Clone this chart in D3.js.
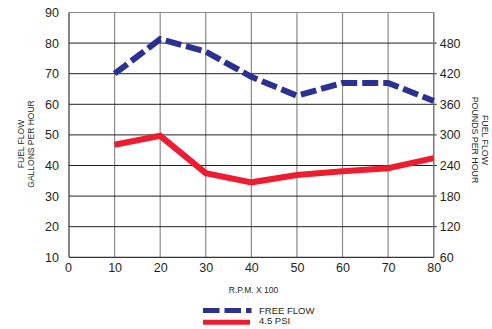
<!DOCTYPE html>
<html><head><meta charset="utf-8">
<script src="https://cdn.jsdelivr.net/npm/d3@7"></script>
<style>body{margin:0;background:#fff}svg{display:block;font-family:"Liberation Sans",Arial,sans-serif}</style>
</head><body><svg id="c" width="492" height="329"></svg>
<script>
const rpm = [10, 20, 30, 40, 50, 60, 70, 80];
const freeFlow = [70, 81.3, 77.2, 69, 62.8, 67, 67, 61.1];
const psi45 = [46.8, 49.7, 37.5, 34.5, 36.9, 38.1, 39.1, 42.4];
const xTicks = [0, 10, 20, 30, 40, 50, 60, 70, 80];
const yLeftTicks = [10, 20, 30, 40, 50, 60, 70, 80, 90];
const yRightTicks = [60, 120, 180, 240, 300, 360, 420, 480];
const seriesNames = ["FREE FLOW", "4.5 PSI"];
const xTitle = "R.P.M. X 100";
const leftTitle = ["FUEL FLOW", "GALLONS PER HOUR"];
const rightTitle = ["FUEL FLOW", "POUNDS PER HOUR"];

const svg = d3.select("#c");
const L = 69, R = 433.7, T = 12.5, B = 257.3;
const x = d3.scaleLinear().domain([0, 80]).range([L, R]);
const yL = d3.scaleLinear().domain([10, 90]).range([B, T]);
const yR = d3.scaleLinear().domain([60, 540]).range([B, T]);
const blue = "#2b3192", red = "#ed1c2e";

// vertical grid
svg.append("g").selectAll("line").data(xTicks.slice(1)).join("line")
  .attr("x1", d => x(d)).attr("x2", d => x(d)).attr("y1", T).attr("y2", B)
  .attr("stroke", "#8a8a8a").attr("stroke-width", 1.2);
// horizontal grid
svg.append("g").selectAll("line").data(yLeftTicks.slice(1, -1)).join("line")
  .attr("x1", L).attr("x2", R + 3).attr("y1", d => yL(d)).attr("y2", d => yL(d))
  .attr("stroke", "#222").attr("stroke-width", 1);
// frame
svg.append("line").attr("x1", L).attr("x2", R).attr("y1", T).attr("y2", T).attr("stroke", "#8a8a8a").attr("stroke-width", 1.2);
svg.append("line").attr("x1", R).attr("x2", R).attr("y1", T).attr("y2", B).attr("stroke", "#777").attr("stroke-width", 1.2);
svg.append("line").attr("x1", L).attr("x2", R).attr("y1", B).attr("y2", B).attr("stroke", "#333").attr("stroke-width", 1.2);
svg.append("line").attr("x1", L).attr("x2", L).attr("y1", T).attr("y2", B).attr("stroke", "#333").attr("stroke-width", 1.2);

// axes via d3 (labels only)
const fs = "12.5px";
const axL = svg.append("g").attr("transform", `translate(${L},0)`)
  .call(d3.axisLeft(yL).tickValues(yLeftTicks).tickSize(0).tickPadding(10).tickFormat(d3.format("d")));
const axR = svg.append("g").attr("transform", `translate(${R},0)`)
  .call(d3.axisRight(yR).tickValues(yRightTicks).tickSize(0).tickPadding(6).tickFormat(d3.format("d")));
const axB = svg.append("g").attr("transform", `translate(0,${B})`)
  .call(d3.axisBottom(x).tickValues(xTicks).tickSize(0).tickPadding(6).tickFormat(d3.format("d")));
[axL, axR, axB].forEach(a => {
  a.select(".domain").remove();
  a.selectAll("text").attr("font-size", fs).attr("fill", "#231f20").attr("font-family", "Liberation Sans, Arial, sans-serif");
});
axB.selectAll("text").filter(d => d === 0).attr("dx", -1);

// lines
const lineL = d3.line().x((d, i) => x(rpm[i])).y(d => yL(d));
svg.append("path").attr("d", lineL(psi45)).attr("fill", "none")
  .attr("stroke", red).attr("stroke-width", 6).attr("stroke-linejoin", "miter");
svg.append("path").attr("d", lineL(freeFlow)).attr("fill", "none")
  .attr("stroke", blue).attr("stroke-width", 6).attr("stroke-dasharray", "16,5").attr("stroke-linejoin", "miter");

// titles
svg.append("text").attr("x", 253.5).attr("y", 293).attr("text-anchor", "middle")
  .attr("font-size", "8.5px").attr("fill", "#231f20").text(xTitle);
svg.append("text").attr("transform", "translate(24,144) rotate(-90)").attr("text-anchor", "middle")
  .attr("font-size", "8.5px").attr("fill", "#231f20").text(leftTitle[0]);
svg.append("text").attr("transform", "translate(33.5,144) rotate(-90)").attr("text-anchor", "middle")
  .attr("font-size", "8.5px").attr("fill", "#231f20").text(leftTitle[1]);
svg.append("text").attr("transform", "translate(481.5,140) rotate(90)").attr("text-anchor", "middle")
  .attr("font-size", "8.8px").attr("fill", "#231f20").text(rightTitle[0]);
svg.append("text").attr("transform", "translate(472,140) rotate(90)").attr("text-anchor", "middle")
  .attr("font-size", "8.8px").attr("fill", "#231f20").text(rightTitle[1]);

// legend
const leg = svg.append("g");
leg.append("line").attr("x1", 203).attr("x2", 251.5).attr("y1", 310.5).attr("y2", 310.5)
  .attr("stroke", blue).attr("stroke-width", 5).attr("stroke-dasharray", "16.5,5");
leg.append("line").attr("x1", 203).attr("x2", 250).attr("y1", 322.3).attr("y2", 322.3)
  .attr("stroke", red).attr("stroke-width", 5);
leg.append("text").attr("x", 259).attr("y", 314).attr("font-size", "9.5px").attr("fill", "#231f20").text(seriesNames[0]);
leg.append("text").attr("x", 259).attr("y", 324.3).attr("font-size", "9.5px").attr("fill", "#231f20").text(seriesNames[1]);
</script></body></html>
